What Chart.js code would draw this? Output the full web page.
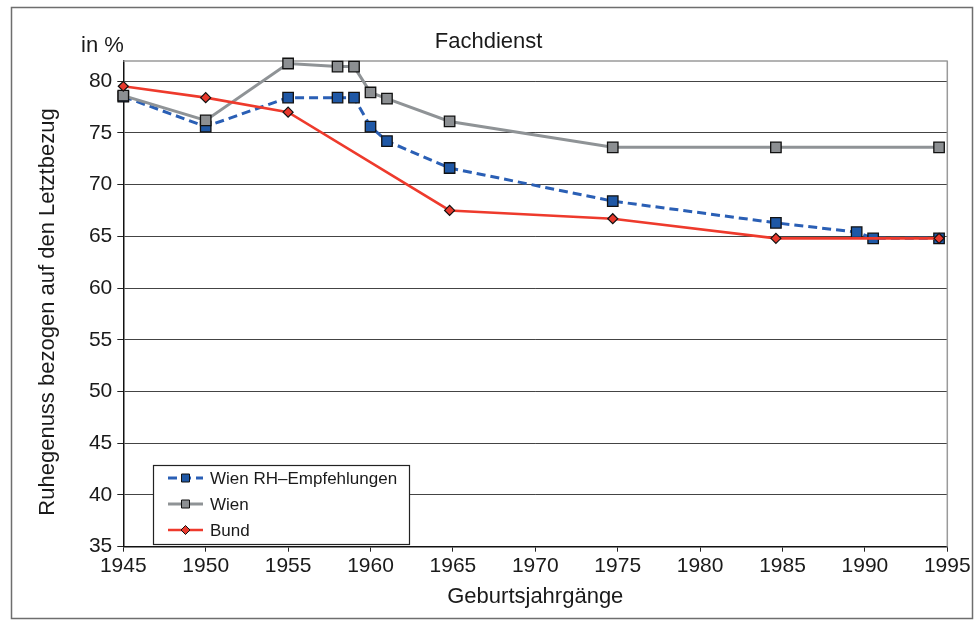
<!DOCTYPE html>
<html>
<head>
<meta charset="utf-8">
<script src="https://cdn.jsdelivr.net/npm/chart.js@4.4.1/dist/chart.umd.min.js"></script>
<style>
  html, body { margin: 0; padding: 0; background: #fff; }
</style>
</head>
<body>
<canvas id="myChart" width="978" height="623"></canvas>
<script>
// values
const rhYears = [1945, 1950, 1955, 1958, 1959, 1960, 1961, 1964.8, 1974.7, 1984.6, 1989.5, 1990.5, 1994.5];
const rhValues = [78.5, 75.6, 78.4, 78.4, 78.4, 75.6, 74.2, 71.6, 68.4, 66.3, 65.4, 64.8, 64.8];
const wienYears = [1945, 1950, 1955, 1958, 1959, 1960, 1961, 1964.8, 1974.7, 1984.6, 1994.5];
const wienValues = [78.6, 76.2, 81.7, 81.4, 81.4, 78.9, 78.3, 76.1, 73.6, 73.6, 73.6];
const bundYears = [1945, 1950, 1955, 1964.8, 1974.7, 1984.6, 1994.5];
const bundValues = [79.5, 78.4, 77.0, 67.5, 66.7, 64.8, 64.8];
const seriesNames = ["Wien RH–Empfehlungen", "Wien", "Bund"];
const xTicks = [1945, 1950, 1955, 1960, 1965, 1970, 1975, 1980, 1985, 1990, 1995];
const yTicks = [35, 40, 45, 50, 55, 60, 65, 70, 75, 80];

const toPoints = (xs, ys) => xs.map((x, i) => ({ x: x, y: ys[i] }));

Chart.defaults.font.family = '"Liberation Sans", Arial, sans-serif';
Chart.defaults.color = "#1a1a1a";

// frame, top/right plot border, "in %", y title, legend box
const extras = {
  id: "extras",
  beforeDraw(chart) {
    const ctx = chart.ctx;
    ctx.save();
    ctx.fillStyle = "#fff";
    ctx.fillRect(0, 0, chart.width, chart.height);
    ctx.strokeStyle = "#6e6e6e";
    ctx.lineWidth = 1.5;
    ctx.strokeRect(11.5, 7.5, 961, 611);
    ctx.restore();
  },
  beforeDatasetsDraw(chart) {
    const ctx = chart.ctx;
    const a = chart.chartArea;
    ctx.save();
    ctx.strokeStyle = "#9a9a9a";
    ctx.lineWidth = 1.5;
    ctx.beginPath();
    ctx.moveTo(a.left, a.top + 0.5);
    ctx.lineTo(a.right, a.top + 0.5);
    ctx.moveTo(a.right, a.top);
    ctx.lineTo(a.right, a.bottom);
    ctx.stroke();
    ctx.restore();
  },
  afterDraw(chart) {
    const ctx = chart.ctx;
    ctx.save();
    ctx.fillStyle = "#1a1a1a";
    ctx.font = '22px "Liberation Sans", Arial, sans-serif';
    ctx.textBaseline = "middle";
    ctx.textAlign = "left";
    ctx.fillText("in %", 81, 46);

    ctx.save();
    ctx.translate(48, 312);
    ctx.rotate(-Math.PI / 2);
    ctx.textAlign = "center";
    ctx.fillText("Ruhegenuss bezogen auf den Letztbezug", 0, 0);
    ctx.restore();

    // legend
    const bx = 153.5, by = 465.5, bw = 256, bh = 79;
    ctx.fillStyle = "#fff";
    ctx.fillRect(bx, by, bw, bh);
    ctx.strokeStyle = "#222";
    ctx.lineWidth = 1.2;
    ctx.strokeRect(bx, by, bw, bh);
    ctx.font = '17px "Liberation Sans", Arial, sans-serif';
    chart.data.datasets.forEach((ds, i) => {
      const y = 478 + i * 26;
      ctx.strokeStyle = ds.borderColor;
      ctx.lineWidth = ds.borderWidth;
      ctx.setLineDash(ds.borderDash || []);
      ctx.beginPath();
      ctx.moveTo(168, y);
      ctx.lineTo(203, y);
      ctx.stroke();
      ctx.setLineDash([]);
      ctx.fillStyle = ds.pointBackgroundColor;
      ctx.strokeStyle = "#111";
      ctx.lineWidth = 1;
      ctx.beginPath();
      if (ds.pointStyle === "rectRot") {
        ctx.moveTo(185.5, y - 4.5);
        ctx.lineTo(190, y);
        ctx.lineTo(185.5, y + 4.5);
        ctx.lineTo(181, y);
        ctx.closePath();
      } else {
        ctx.rect(181.5, y - 4, 8, 8);
      }
      ctx.fill();
      ctx.stroke();
      ctx.fillStyle = "#1a1a1a";
      ctx.fillText(ds.label, 210, y + 1);
    });
    ctx.restore();
  },
};

const chart = new Chart(document.querySelector("#myChart"), {
  type: "line",
  data: {
    datasets: [
      {
        label: seriesNames[0],
        data: toPoints(rhYears, rhValues),
        borderColor: "#2a5fb5",
        borderWidth: 3,
        borderDash: [9, 5],
        pointStyle: "rect",
        pointRadius: 7.4,
        pointBackgroundColor: "#1f58a6",
        pointBorderColor: "#111",
        pointBorderWidth: 1.3,
        order: 3,
        clip: false,
      },
      {
        label: seriesNames[1],
        data: toPoints(wienYears, wienValues),
        borderColor: "#8f9396",
        borderWidth: 3,
        pointStyle: "rect",
        pointRadius: 7.4,
        pointBackgroundColor: "#8c8f92",
        pointBorderColor: "#111",
        pointBorderWidth: 1.3,
        order: 2,
        clip: false,
      },
      {
        label: seriesNames[2],
        data: toPoints(bundYears, bundValues),
        borderColor: "#ee3a2c",
        borderWidth: 2.6,
        pointStyle: "rectRot",
        pointRadius: 5,
        pointBackgroundColor: "#e8382c",
        pointBorderColor: "#111",
        pointBorderWidth: 1.2,
        order: 1,
        clip: false,
      },
    ],
  },
  options: {
    responsive: false,
    animation: false,
    devicePixelRatio: 1,
    layout: { padding: { left: 30, right: 30.7, top: 0, bottom: 0 } },
    elements: { line: { tension: 0 } },
    plugins: {
      legend: { display: false },
      tooltip: { enabled: false },
      title: {
        display: true,
        text: "Fachdienst",
        color: "#1a1a1a",
        font: { size: 22, weight: "normal" },
        padding: { top: 29, bottom: 5 },
      },
    },
    scales: {
      x: {
        type: "linear",
        min: 1945,
        max: 1995,
        afterBuildTicks: (s) => { s.ticks = xTicks.map((v) => ({ value: v })); },
        afterFit: (s) => { s.height = 76.3; },
        ticks: {
          font: { size: 21 },
          padding: 2,
          maxRotation: 0,
          autoSkip: false,
          color: "#1a1a1a",
          callback: (v) => String(v),
        },
        grid: { drawOnChartArea: false, drawTicks: true, tickLength: 5, color: "#222" },
        border: { display: true, color: "#111", width: 1.5 },
        title: {
          display: true,
          text: "Geburtsjahrgänge",
          color: "#1a1a1a",
          font: { size: 22 },
          padding: { top: 0, bottom: 13 },
        },
      },
      y: {
        min: 35,
        max: 82,
        afterBuildTicks: (s) => { s.ticks = yTicks.map((v) => ({ value: v })); },
        afterFit: (s) => { s.width = 93.3; },
        ticks: { font: { size: 21 }, padding: 5, color: "#1a1a1a" },
        grid: { color: "#444", lineWidth: 1, tickLength: 6, tickColor: "#222" },
        border: { display: true, color: "#111", width: 1.5 },
      },
    },
  },
  plugins: [extras],
});
</script>
</body>
</html>
